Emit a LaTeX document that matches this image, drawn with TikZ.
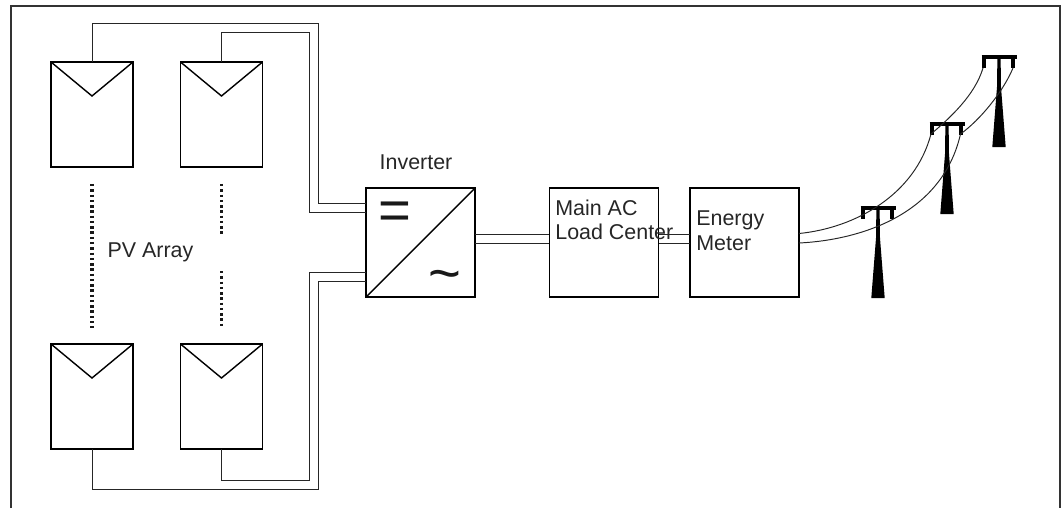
\documentclass[tikz,border=0pt]{standalone}
\usepackage{fontspec}
\usetikzlibrary{calc}
\setmainfont{Liberation Sans}
\tikzset{
  panel/.style={draw,line width=0.9pt,minimum width=1.64cm,minimum height=2.1cm,inner sep=0pt,outer sep=0pt},
  unitbox/.style={draw,line width=0.9pt,minimum width=2.18cm,minimum height=2.18cm,inner sep=0pt,outer sep=0pt},
  wire/.style={line width=0.55pt,black!85},
  dotline/.style={line width=2pt,dash pattern=on 1.4pt off 1.6pt,black!90},
  caption/.style={font=\fontsize{12.2}{14.2}\selectfont,text=black!85,inner sep=0pt,align=left},
  symb/.style={font=\fontsize{32}{32}\selectfont,text=black!90,inner sep=0pt}
}
\begin{document}
\begin{tikzpicture}[x=0.02cm,y=-0.02cm]
\useasboundingbox (0,0) rectangle (1063,508);
\draw[line width=1.7pt,black!80] (11,508) -- (11,6) -- (1060,6) -- (1060,508);

% panels
\node[panel] (pvA) at (92,114.5) {};
\node[panel] (pvB) at (221.5,114.5) {};
\node[panel] (pvC) at (92,396.5) {};
\node[panel] (pvD) at (221.5,396.5) {};
\foreach \n in {pvA,pvB,pvC,pvD}
  \draw[line width=0.8pt] (\n.north west) -- ($(\n.north)+(0,34)$) -- (\n.north east);

\draw[dotline,shorten <=0.34cm,shorten >=0.32cm] (pvA.south) -- (pvC.north);
\coordinate (dotB) at (221.5,235);
\coordinate (dotD) at (221.5,271);
\draw[dotline,shorten <=0.34cm] (pvB.south) -- (dotB);
\draw[dotline,shorten >=0.32cm] (dotD) -- (pvD.north);
\node[caption] (pvlabel) at (150.5,252) {PV Array};

% boxes
\node[unitbox] (inv) at (420.5,242.5) {};
\node[unitbox] (main) at (604,242.5) {};
\node[unitbox] (meter) at (744.5,242.5) {};
\draw[line width=0.8pt] (inv.south west) -- (inv.north east);
\node[caption] (invlabel) at (416,162) {Inverter};
\node[caption,anchor=west] (mainlabel) at (555,220) {Main AC\\[-0.2pt]Load Center};
\node[caption,anchor=west] (meterlabel) at (696,231) {Energy\\[-0.2pt]Meter};
\node[symb] (dc) at (395,216) {=};
\node[symb] (ac) at (445,281) {\char`\~};

% wires to the inverter
\coordinate (inA) at (366,203);
\coordinate (inB) at (366,212);
\coordinate (inC) at (366,272);
\coordinate (inD) at (366,281);
\coordinate (topA) at (318,23);
\coordinate (topB) at (309,32);
\coordinate (lowC) at (318,489);
\coordinate (lowD) at (309,480);
\draw[wire] (pvA.north) |- (topA) |- (inA);
\draw[wire] (pvB.north) |- (topB) |- (inB);
\draw[wire] (pvC.south) |- (lowC) |- (inD);
\draw[wire] (pvD.south) |- (lowD) |- (inC);

\coordinate (acA) at (475,234);
\coordinate (acB) at (475,243);
\coordinate (acC) at (549,234);
\coordinate (acD) at (549,243);
\coordinate (acE) at (659,234);
\coordinate (acF) at (659,243);
\coordinate (acG) at (690,234);
\coordinate (acH) at (690,243);
\draw[wire] (acA) -- (acC);
\draw[wire] (acB) -- (acD);
\draw[wire] (acE) -- (acG);
\draw[wire] (acF) -- (acH);

% towers
\foreach \cx/\cy in {878/208,947/124,999/57} {
  \fill (\cx-1.6,\cy) -- (\cx+1.6,\cy) -- (\cx+2,\cy+30) -- (\cx+6.7,\cy+90) -- (\cx-6.7,\cy+90) -- (\cx-2,\cy+30) -- cycle;
  \draw[line width=2pt] (\cx-17.5,\cy) -- (\cx+17.5,\cy);
  \draw[line width=2pt] (\cx-15,\cy) -- (\cx-15,\cy+11);
  \draw[line width=2pt] (\cx+14,\cy) -- (\cx+14,\cy+11);
}
\coordinate (towerBl) at (931,134);
\coordinate (towerBr) at (960.5,134);
\coordinate (towerCl) at (983,68);
\coordinate (towerCr) at (1013,68);
\coordinate (lineA) at (799,233.5);
\coordinate (lineB) at (799,243);
\draw[wire] (lineA) .. controls (855,228) and (915,195) .. (towerBl);
\draw[wire] (lineB) .. controls (860,240) and (942,215) .. (towerBr);
\draw[wire] (towerBl) .. controls (950,118) and (975,95) .. (towerCl);
\draw[wire] (towerBr) .. controls (980,120) and (1003,92) .. (towerCr);
\end{tikzpicture}
\end{document}
